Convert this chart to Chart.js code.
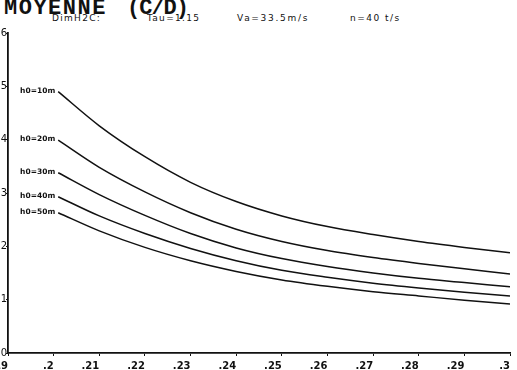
<!DOCTYPE html>
<html>
<head>
<meta charset="utf-8">
<script src="https://cdn.jsdelivr.net/npm/chart.js@4/dist/chart.umd.min.js"></script>
<style>
    html, body { margin: 0; padding: 0; background: #fff; overflow: hidden; }
    body { width: 517px; height: 370px; position: relative; }
    #wrap { position: absolute; left: -20px; top: 0; width: 550px; height: 385px; }
    .title { position: absolute; top: -2px; font: bold 22px/22px "Liberation Mono", monospace; color: #111; white-space: pre; letter-spacing: 1.5px; }
    .sub { position: absolute; top: 12px; font: 9px/12px "DejaVu Sans", sans-serif; color: #111; letter-spacing: 1.3px; white-space: pre; }
</style>
</head>
<body>
<div class="title" style="left:4px">MOYENNE</div>
<div class="title" style="left:127px; letter-spacing:-1px">(C/D)</div>
<div class="sub" style="left:52px">DimH2C:</div>
<div class="sub" style="left:147px">Tau=1.15</div>
<div class="sub" style="left:237px; letter-spacing:1.7px">Va=33.5m/s</div>
<div class="sub" style="left:350px; letter-spacing:1.5px">n=40 t/s</div>
<div id="wrap"><canvas id="c"></canvas></div>
<script>
// x positions of the sampled points (C/D)
const xValues = [0.201, 0.21, 0.22, 0.23, 0.24, 0.25, 0.26, 0.27, 0.28, 0.29, 0.30];

// one curve per initial height h0
const seriesLabels = ["h0=10m", "h0=20m", "h0=30m", "h0=40m", "h0=50m"];
const h0_10 = [4.90, 4.26, 3.68, 3.20, 2.84, 2.57, 2.37, 2.22, 2.09, 1.98, 1.88];
const h0_20 = [3.99, 3.48, 3.02, 2.63, 2.32, 2.09, 1.92, 1.79, 1.68, 1.58, 1.48];
const h0_30 = [3.38, 2.97, 2.58, 2.24, 1.97, 1.77, 1.62, 1.50, 1.40, 1.32, 1.24];
const h0_40 = [2.93, 2.57, 2.24, 1.96, 1.73, 1.55, 1.42, 1.31, 1.22, 1.14, 1.07];
const h0_50 = [2.63, 2.29, 1.98, 1.73, 1.53, 1.37, 1.25, 1.15, 1.07, 0.99, 0.92];

const xTicks = [0.19, 0.20, 0.21, 0.22, 0.23, 0.24, 0.25, 0.26, 0.27, 0.28, 0.29, 0.30];
const yTicks = [0, 1, 2, 3, 4, 5, 6];

const allSeries = [h0_10, h0_20, h0_30, h0_40, h0_50];

const datasets = allSeries.map((vals, i) => ({
    label: seriesLabels[i],
    data: vals.map((v, k) => ({ x: xValues[k], y: v })),
    borderColor: "#111",
    borderWidth: 1.5,
    pointRadius: 0,
    fill: false,
    cubicInterpolationMode: "monotone",
}));

// write "h0=..m" just left of where each curve starts
const curveLabels = {
    id: "curveLabels",
    afterDatasetsDraw(chart) {
        const { ctx, scales } = chart;
        ctx.save();
        ctx.font = "bold 7.5px 'DejaVu Sans', sans-serif";
        ctx.fillStyle = "#111";
        ctx.textAlign = "right";
        ctx.textBaseline = "middle";
        allSeries.forEach((vals, i) => {
            const px = scales.x.getPixelForValue(xValues[0]) - 3;
            const py = scales.y.getPixelForValue(vals[0]) - 1;
            ctx.fillText(seriesLabels[i], px, py);
        });
        ctx.restore();
    },
};

const fmtX = (v) => {
    const s = (Math.round(v * 100) / 100).toString();
    return s.replace(/^0/, "");
};

new Chart(document.getElementById("c"), {
    type: "line",
    data: { datasets },
    plugins: [curveLabels],
    options: {
        responsive: true,
        maintainAspectRatio: false,
        animation: false,
        layout: { padding: { top: 33, right: 20, left: 0, bottom: 0 } },
        plugins: {
            legend: { display: false },
            tooltip: { enabled: false },
        },
        scales: {
            x: {
                type: "linear",
                min: 0.19,
                max: 0.30,
                afterBuildTicks: (s) => { s.ticks = xTicks.map((v) => ({ value: v })); },
                afterFit: (s) => { s.height = 32; s.paddingLeft = 0; s.paddingRight = 0; },
                grid: { drawOnChartArea: false, tickLength: 3, color: "#111", lineWidth: 1 },
                border: { color: "#111", width: 1.8 },
                ticks: {
                    align: "end",
                    padding: 4,
                    color: "#111",
                    font: { family: "DejaVu Sans", size: 10, weight: "bold" },
                    callback: (v) => fmtX(v),
                },
            },
            y: {
                type: "linear",
                min: 0,
                max: 6,
                afterBuildTicks: (s) => { s.ticks = yTicks.map((v) => ({ value: v })); },
                afterFit: (s) => { s.width = 28; s.paddingTop = 0; s.paddingBottom = 0; },
                grid: { drawOnChartArea: false, tickLength: 2, color: "#111", lineWidth: 1 },
                border: { color: "#111", width: 1.8 },
                ticks: {
                    padding: -1,
                    color: "#111",
                    font: { family: "DejaVu Sans", size: 10 },
                },
            },
        },
    },
});
</script>
</body>
</html>
